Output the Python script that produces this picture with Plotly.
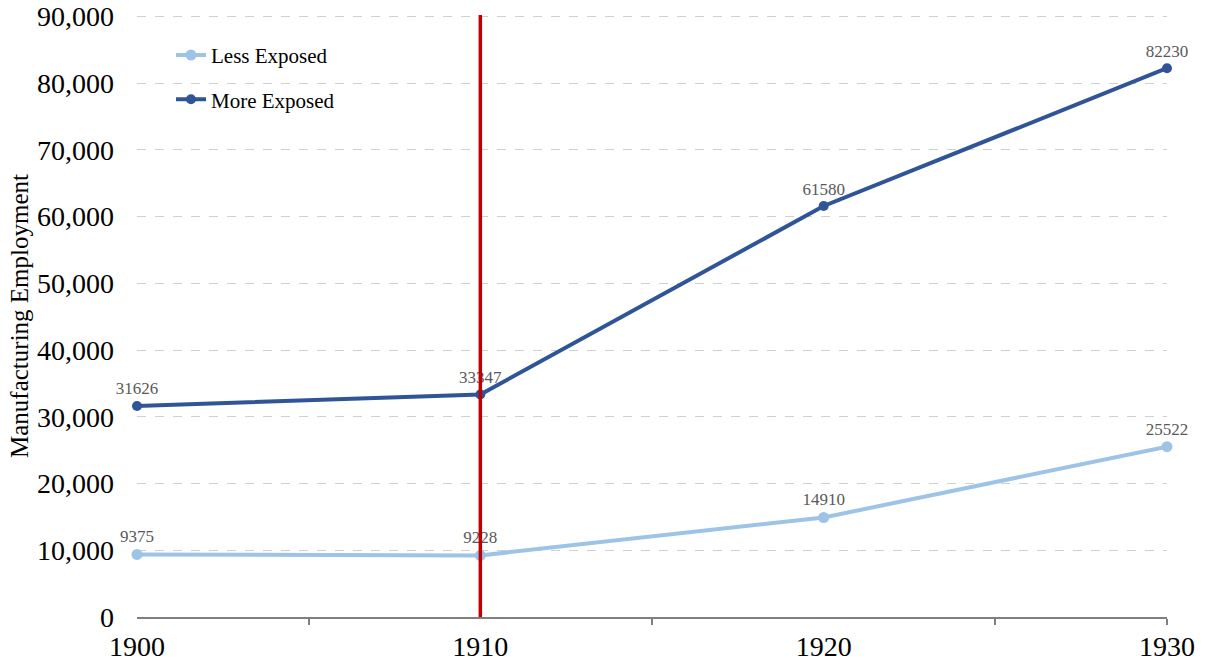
import plotly.graph_objects as go

years = [1900, 1910, 1920, 1930]
less_exposed = [9375, 9228, 14910, 25522]
more_exposed = [31626, 33347, 61580, 82230]
series_names = ["Less Exposed", "More Exposed"]
x_tick_labels = ["1900", "1910", "1920", "1930"]
x_minor_ticks = [1905, 1915, 1925, 1930]
y_tick_vals = list(range(0, 90001, 10000))
treatment_year = 1910

FONT = "Liberation Serif"
light = "#9DC3E6"
dark = "#2F5597"

fig = go.Figure()
fig.add_trace(go.Scatter(
    x=years, y=less_exposed, name=series_names[0], mode="lines+markers+text",
    legendgroup="a",
    line=dict(color=light, width=4), marker=dict(color=light, size=11),
    text=[str(v) for v in less_exposed], textposition="top center",
    textfont=dict(family=FONT, size=17, color="#595959"), cliponaxis=False,
))
fig.add_trace(go.Scatter(
    x=years, y=more_exposed, name=series_names[1], mode="lines+markers+text",
    legendgroup="b",
    line=dict(color=dark, width=4), marker=dict(color=dark, size=10),
    text=[str(v) for v in more_exposed], textposition="top center",
    textfont=dict(family=FONT, size=17, color="#595959"), cliponaxis=False,
))
fig.add_vline(x=treatment_year, line=dict(color="#C00000", width=3.5))

fig.update_layout(
    width=1206, height=668,
    margin=dict(l=137, r=39, t=15, b=51, autoexpand=False),
    plot_bgcolor="white", paper_bgcolor="white",
    font=dict(family=FONT, color="#000000"),
    showlegend=True,
    legend=dict(x=0.033, y=0.967, xanchor="left", yanchor="top",
                font=dict(family=FONT, size=21, color="#000000"),
                bgcolor="rgba(0,0,0,0)", tracegroupgap=14, itemwidth=30),
    xaxis=dict(
        range=[1900, 1930], tickvals=years, ticktext=x_tick_labels,
        ticks="", showgrid=False, zeroline=False, automargin=False,
        showline=True, linecolor="#7f7f7f", linewidth=1.5,
        ticklabelstandoff=4, ticklabeloverflow="allow",
        tickfont=dict(family=FONT, size=28, color="#000000"),
        minor=dict(tickvals=x_minor_ticks, ticks="outside",
                   ticklen=6, tickcolor="#7f7f7f", tickwidth=1.5, showgrid=False),
    ),
    yaxis=dict(
        range=[0, 90200], tickvals=y_tick_vals, tickformat=",d",
        showgrid=True, gridcolor="#d0d0d0", griddash="dash", gridwidth=1,
        zeroline=False, showline=False, ticks="", ticklabelstandoff=22,
        automargin=False, ticklabeloverflow="allow",
        tickfont=dict(family=FONT, size=28, color="#000000"),
        title=dict(text="Manufacturing Employment",
                   font=dict(family=FONT, size=25, color="#000000"), standoff=1),
    ),
)

fig.write_html("out.html", config={"displayModeBar": False},
               post_script="document.body.style.margin='0';")
